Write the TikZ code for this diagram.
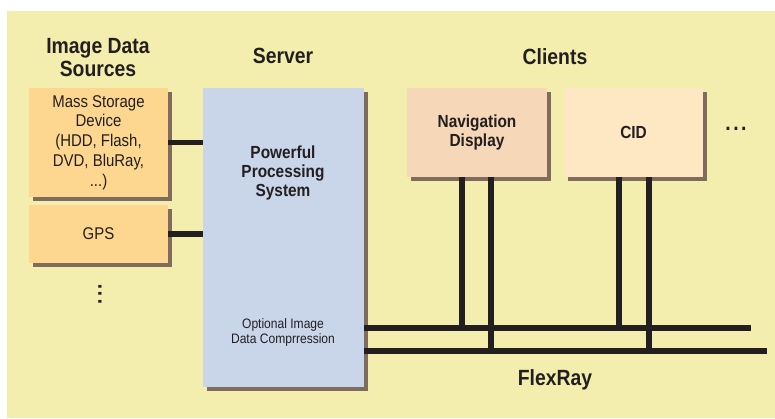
\documentclass[tikz,border=0pt]{standalone}
\usepackage{fontspec}
\setmainfont{Liberation Sans}[FakeStretch=0.88]
\usetikzlibrary{shadows}
\definecolor{bgyellow}{HTML}{F4EEAE}
\definecolor{srcorange}{HTML}{FDD690}
\definecolor{srvblue}{HTML}{C9D6EA}
\definecolor{navpeach}{HTML}{F6D7B8}
\definecolor{cidcream}{HTML}{FDE8C3}
\definecolor{shadowbrown}{HTML}{7F6C5C}
\definecolor{ink}{HTML}{231F20}

\begin{document}
\begin{tikzpicture}[x=1pt,y=-1pt,
  box/.style={rectangle,inner sep=0pt,align=center,text=ink,
    drop shadow={shadow xshift=4pt,shadow yshift=-4pt,fill=shadowbrown,opacity=1}},
  head/.style={text=ink,align=center,font=\fontsize{22}{23}\selectfont\bfseries},
  txt/.style={text=ink,align=center,font=\fontsize{17}{19.7}\selectfont},
  bold/.style={text=ink,align=center,font=\fontsize{17.5}{19}\selectfont\bfseries},
  bus/.style={draw=ink,line width=5.5pt}]
\useasboundingbox (0,0) rectangle (775,418);
\fill[white] (0,0) rectangle (775,418);
\fill[bgyellow] (7,11) rectangle (775,418);

% column titles
\node[head] (srctitle) at (98,57.5) {Image Data\\Sources};
\node[head] (srvtitle) at (283,56) {Server};
\node[head] (clititle) at (555,57) {Clients};

% image data sources
\node[box,txt,fill=srcorange,minimum width=139,minimum height=109] (mass) at (98.5,142.5)
  {Mass Storage\\Device\\(HDD, Flash,\\DVD, BluRay,\\...)};
\node[box,txt,fill=srcorange,minimum width=139,minimum height=58] (gps) at (98.5,234) {GPS};
\node[text=ink,rotate=90,font=\fontsize{22}{23}\selectfont\bfseries] (moresrc) at (100,294)
  {.\hspace{2.2pt}.\hspace{2.2pt}.};

% server
\node[box,fill=srvblue,minimum width=161,minimum height=299] (server) at (283.5,237.5) {};
\node[bold] (power) at (283,173) {Powerful\\Processing\\System};
\node[text=ink,align=center,font=\fontsize{13.7}{15}\selectfont] (compress) at (283,332.5)
  {Optional Image\\Data Comprression};

% clients
\node[box,bold,fill=navpeach,minimum width=140,minimum height=89] (nav) at (477,132.5)
  {Navigation\\Display};
\node[box,bold,fill=cidcream,minimum width=139,minimum height=89] (cid) at (633.5,132.5) {CID};
\node[text=ink,font=\fontsize{22}{23}\selectfont\bfseries] (moreclients) at (736,129)
  {.\hspace{2.5pt}.\hspace{2.5pt}.};

% connections
\draw[bus] (mass.east) -- (mass.east -| server.west);
\draw[bus] (gps.east) -- (gps.east -| server.west);
\coordinate (busa) at (751,328);
\coordinate (busb) at (767,351);
\draw[bus] (busa -| server.east) -- (busa);
\draw[bus] (busb -| server.east) -- (busb);
\draw[bus] ([xshift=-15pt]nav.south) -- ([xshift=-15pt]nav.south |- busa);
\draw[bus] ([xshift=14pt]nav.south) -- ([xshift=14pt]nav.south |- busb);
\draw[bus] ([xshift=-14.5pt]cid.south) -- ([xshift=-14.5pt]cid.south |- busa);
\draw[bus] ([xshift=15.5pt]cid.south) -- ([xshift=15.5pt]cid.south |- busb);
\node[head] (flexray) at (555,380) {FlexRay};
\end{tikzpicture}
\end{document}
